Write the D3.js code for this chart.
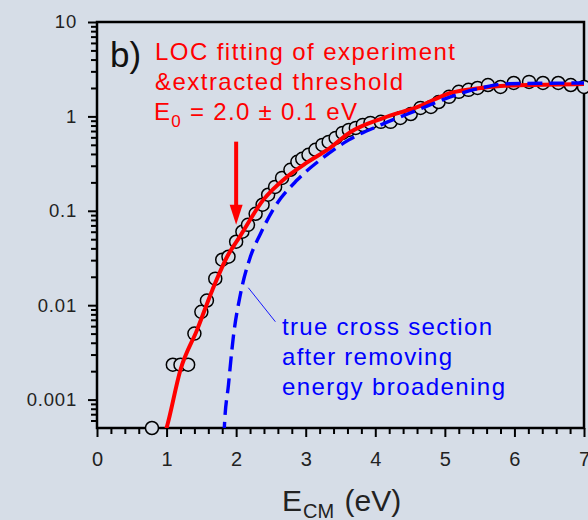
<!DOCTYPE html>
<html>
<head>
<meta charset="utf-8">
<script src="https://cdn.jsdelivr.net/npm/d3@7/dist/d3.min.js"></script>
<style>
  html, body { margin: 0; padding: 0; background: #d6dde7; }
  svg { display: block; }
  text { font-family: "Liberation Sans", Arial, sans-serif; }
</style>
</head>
<body>
<svg id="chart" width="588" height="520"></svg>
<script>
// Measured cross section (E_CM in eV, cross section, log scale)
const expEnergy = [0.79, 1.09, 1.20, 1.31, 1.40, 1.50, 1.58, 1.70, 1.80, 1.89, 2.00, 2.09, 2.17, 2.28,
  2.38, 2.46, 2.56, 2.66, 2.78, 2.88, 2.95, 3.04, 3.14, 3.24, 3.33, 3.43, 3.53, 3.62, 3.72, 3.82,
  3.93, 4.08, 4.22, 4.36, 4.51, 4.65, 4.80, 4.91, 5.06, 5.20, 5.34, 5.47, 5.62, 5.80, 5.99, 6.21,
  6.41, 6.63, 6.81, 7.00];
const expSigma = [0.0005, 0.00234, 0.00234, 0.00234, 0.0050, 0.0085, 0.0112, 0.0191, 0.0303, 0.0326,
  0.047, 0.060, 0.071, 0.093, 0.116, 0.148, 0.179, 0.223, 0.272, 0.330, 0.355, 0.392, 0.443, 0.499,
  0.537, 0.592, 0.668, 0.719, 0.755, 0.813, 0.853, 0.875, 0.875, 0.964, 1.06, 1.23, 1.26, 1.42,
  1.61, 1.82, 1.91, 2.00, 2.15, 2.05, 2.26, 2.32, 2.26, 2.26, 2.15, 2.05];

// LOC fit of the experiment (solid red)
const fitEnergy = [0.96, 1.00, 1.20, 1.44, 1.66, 1.87, 2.06, 2.39, 2.71, 2.97, 3.36, 3.64, 4.12,
  4.61, 5.08, 5.52, 5.80, 6.19, 7.00];
const fitSigma = [0.00040, 0.0005, 0.00207, 0.00551, 0.0146, 0.0326, 0.0543, 0.1305, 0.223, 0.307,
  0.470, 0.680, 0.964, 1.26, 1.77, 2.00, 2.10, 2.15, 2.21];

// True cross section after removing energy broadening (dashed blue)
const trueEnergy = [1.825, 1.83, 1.89, 1.96, 2.06, 2.20, 2.35, 2.53, 2.88, 3.21, 3.62, 4.08, 4.61,
  5.08, 5.52, 5.85, 7.00];
const trueSigma = [0.00040, 0.0005, 0.00144, 0.00464, 0.0129, 0.0318, 0.0571, 0.1026, 0.213, 0.347,
  0.564, 0.813, 1.17, 1.61, 2.00, 2.21, 2.26];

// Axis ticks
const xTickValues = [0, 1, 2, 3, 4, 5, 6, 7];
const xTickLabels = ["0", "1", "2", "3", "4", "5", "6", "7"];
const yTickValues = [0.001, 0.01, 0.1, 1, 10];
const yTickLabels = ["0.001", "0.01", "0.1", "1", "10"];

const thresholdE0 = 2.0;

const svg = d3.select("#chart");
const W = 588, H = 520;
const plotL = 97, plotR = 584, plotT = 22, plotB = 428;
const bg = "#d6dde7";

svg.append("rect").attr("width", W).attr("height", H).attr("fill", bg);

const x = d3.scaleLinear().domain([0, 7]).range([plotL, plotR]);
const y = d3.scaleLog().domain([5e-4, 10]).range([plotB, plotT]);

svg.append("defs").append("clipPath").attr("id", "plotClip")
  .append("rect").attr("x", plotL).attr("y", plotT).attr("width", plotR - plotL).attr("height", plotB - plotT);

// minor ticks
const xMinor = d3.range(0, 7.0001, 0.2).filter(v => Math.abs(v - Math.round(v)) > 1e-6);
const yMinor = [];
for (let p = -4; p <= 0; p++) {
  for (let k = 2; k <= 9; k++) {
    const v = k * Math.pow(10, p);
    if (v > 5e-4 && v < 10) yMinor.push(v);
  }
}

const axisColor = "#000";
const labelColor = "#222";
const xAxisMinor = svg.append("g").attr("transform", `translate(0,${plotB})`)
  .call(d3.axisBottom(x).tickValues(xMinor).tickSize(6).tickFormat(""));
const xAxis = svg.append("g").attr("transform", `translate(0,${plotB})`)
  .call(d3.axisBottom(x).tickValues(xTickValues).tickSize(9).tickPadding(15)
    .tickFormat((d, i) => xTickLabels[i]));
const yAxisMinor = svg.append("g").attr("transform", `translate(${plotL},0)`)
  .call(d3.axisLeft(y).tickValues(yMinor).tickSize(6).tickFormat(""));
const yAxis = svg.append("g").attr("transform", `translate(${plotL},0)`)
  .call(d3.axisLeft(y).tickValues(yTickValues).tickSize(9).tickPadding(11)
    .tickFormat((d, i) => yTickLabels[i]));

[xAxisMinor, xAxis, yAxisMinor, yAxis].forEach(g => {
  g.select(".domain").remove();
  g.selectAll(".tick line").attr("stroke", axisColor).attr("stroke-width", 2);
});
xAxis.selectAll(".tick text").attr("font-size", 20).attr("fill", labelColor)
  .attr("font-family", "'Liberation Sans', Arial, sans-serif");
yAxis.selectAll(".tick text").attr("font-size", 18.5).attr("fill", labelColor)
  .attr("letter-spacing", 0.8)
  .attr("font-family", "'Liberation Sans', Arial, sans-serif");

// frame
svg.append("rect").attr("x", plotL).attr("y", plotT).attr("width", plotR - plotL).attr("height", plotB - plotT)
  .attr("fill", "none").attr("stroke", axisColor).attr("stroke-width", 2.5);

// data points
const pts = expEnergy.map((e, i) => [e, expSigma[i]]);
svg.append("g").selectAll("circle").data(pts).join("circle")
  .attr("cx", d => x(d[0])).attr("cy", d => y(d[1])).attr("r", 6.5)
  .attr("fill", bg).attr("stroke", "#000").attr("stroke-width", 1.5);

// curves are drawn over the points and clipped to the frame
const plot = svg.append("g").attr("clip-path", "url(#plotClip)");
const line = d3.line().x(d => x(d[0])).y(d => y(d[1])).curve(d3.curveMonotoneX);

plot.append("path").datum(fitEnergy.map((e, i) => [e, fitSigma[i]]))
  .attr("d", line).attr("fill", "none").attr("stroke", "#ff0000").attr("stroke-width", 4);

plot.append("path").datum(trueEnergy.map((e, i) => [e, trueSigma[i]]))
  .attr("d", line).attr("fill", "none").attr("stroke", "#0000ff").attr("stroke-width", 3.4)
  .attr("stroke-dasharray", "15,7");

// arrow marking the threshold E0
const ax = x(thresholdE0);
const aTop = y(0.54), aTip = y(0.071);
svg.append("line").attr("x1", ax).attr("x2", ax).attr("y1", aTop).attr("y2", aTip - 16)
  .attr("stroke", "#ff0000").attr("stroke-width", 4);
svg.append("path")
  .attr("d", `M${ax - 6.5},${aTip - 20} L${ax + 6.5},${aTip - 20} L${ax},${aTip} Z`)
  .attr("fill", "#ff0000");

// leader line to the dashed curve
svg.append("line")
  .attr("x1", x(2.175)).attr("y1", y(0.0153))
  .attr("x2", x(2.564)).attr("y2", y(0.00668))
  .attr("stroke", "#0000ff").attr("stroke-width", 0.9);

// panel letter
svg.append("text").attr("x", 110).attr("y", 67).attr("font-size", 35).attr("fill", "#111").text("b)");

// red annotation
const red = svg.append("g").attr("fill", "#ff0000").attr("font-size", 24);
red.append("text").attr("x", 155).attr("y", 60).attr("textLength", 300).attr("lengthAdjust", "spacing")
  .text("LOC fitting of experiment");
red.append("text").attr("x", 155).attr("y", 90).attr("textLength", 248).attr("lengthAdjust", "spacing")
  .text("&extracted threshold");
const e0 = red.append("text").attr("x", 154).attr("y", 120).attr("letter-spacing", 1.3);
e0.append("tspan").text("E");
e0.append("tspan").attr("font-size", 17).attr("dy", 7).text("0");
e0.append("tspan").attr("dy", -7).text(" = 2.0 \u00b1 0.1 eV");

// blue annotation
const blue = svg.append("g").attr("fill", "#0000ff").attr("font-size", 24);
blue.append("text").attr("x", 282).attr("y", 335).attr("textLength", 210).attr("lengthAdjust", "spacing")
  .text("true cross section");
blue.append("text").attr("x", 282).attr("y", 365).attr("textLength", 170).attr("lengthAdjust", "spacing")
  .text("after removing");
blue.append("text").attr("x", 282).attr("y", 395).attr("textLength", 223).attr("lengthAdjust", "spacing")
  .text("energy broadening");

// axis title
const xt = svg.append("text").attr("x", 282).attr("y", 511).attr("font-size", 30).attr("fill", labelColor);
xt.append("tspan").text("E");
xt.append("tspan").attr("font-size", 20).attr("dy", 7).attr("dx", 1).text("CM");
xt.append("tspan").attr("dy", -7).attr("dx", 2).text(" (eV)");
</script>
</body>
</html>
